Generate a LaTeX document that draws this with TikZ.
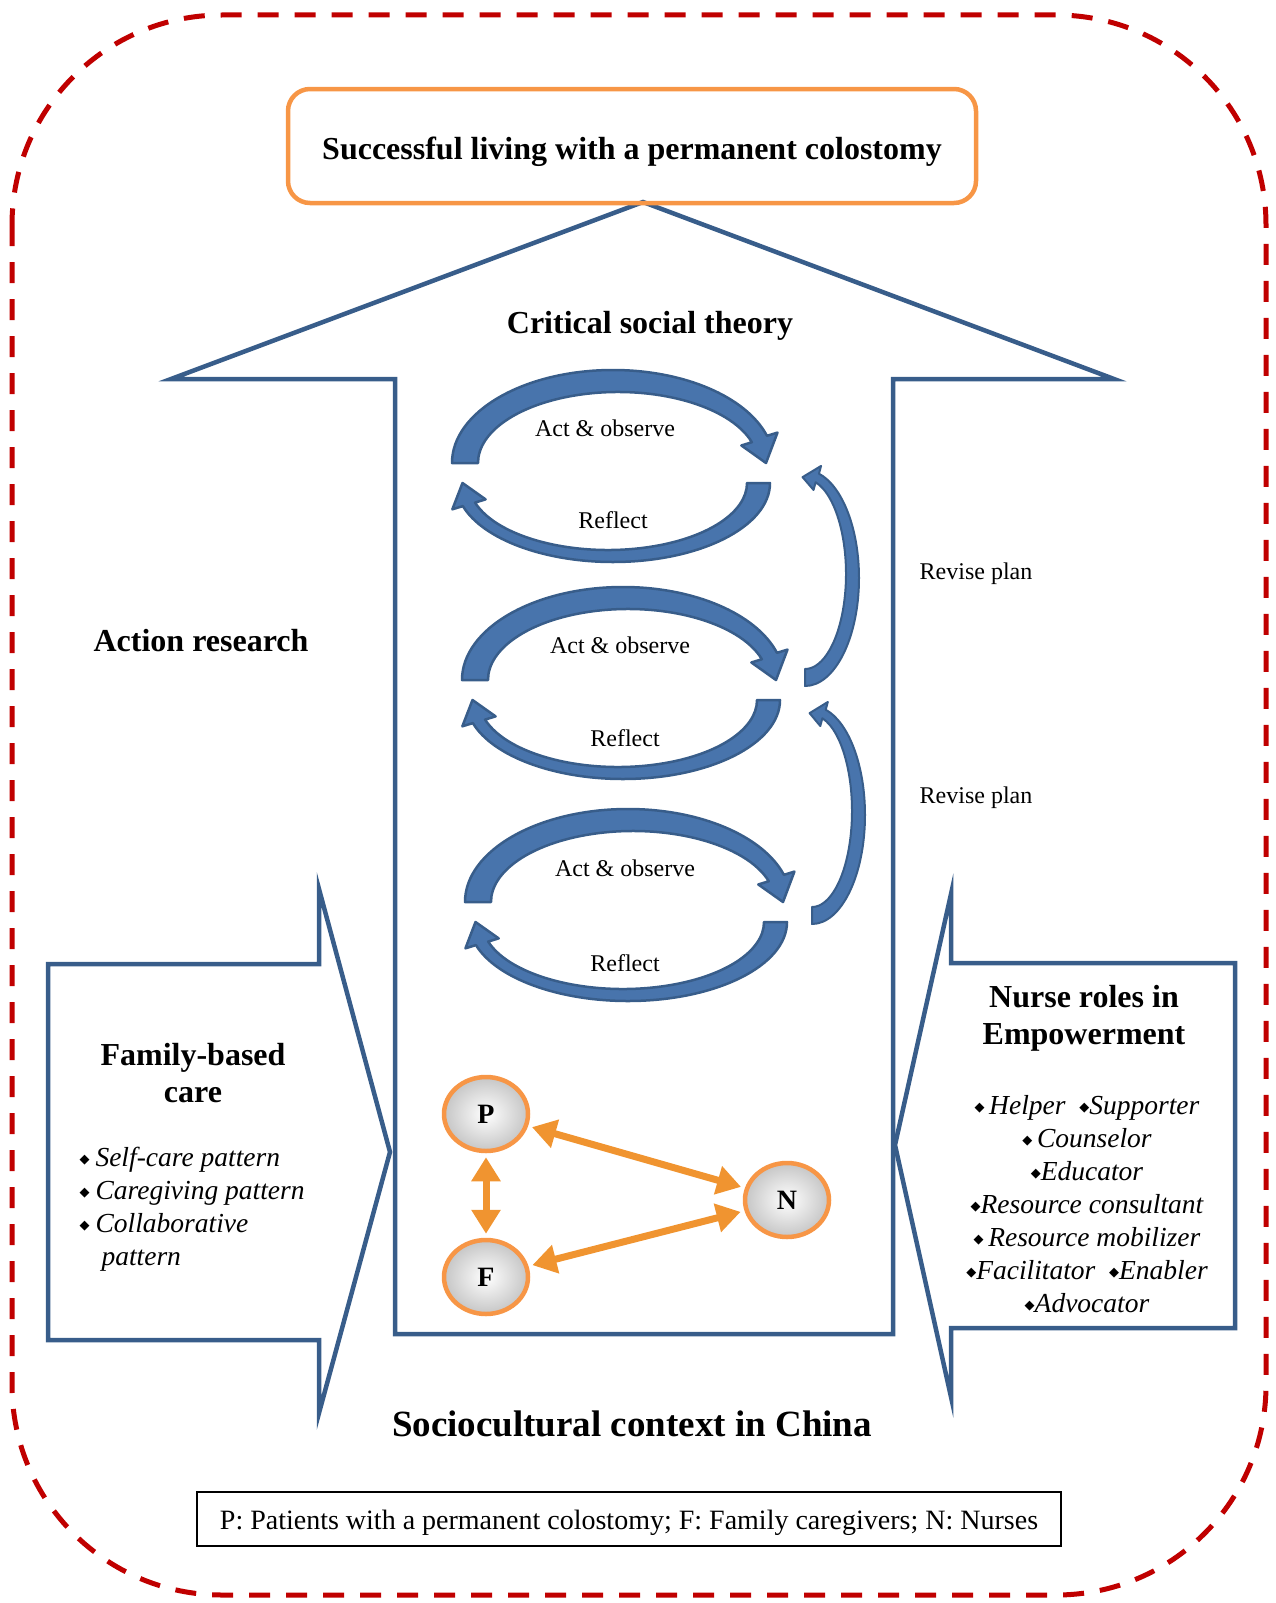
\documentclass[tikz,border=0pt]{standalone}
\usepackage{fontspec}
\setmainfont{Liberation Serif}
\newfontfamily\symbolfont{DejaVu Sans}
\usetikzlibrary{positioning, arrows.meta, shapes.geometric}

\definecolor{frameblue}{RGB}{56,93,138}
\definecolor{arcblue}{RGB}{72,116,172}
\definecolor{boxorange}{RGB}{247,150,70}
\definecolor{framered}{RGB}{192,0,0}
\definecolor{linkorange}{RGB}{240,148,48}

\newcommand{\bul}{\raisebox{0.22ex}{\symbolfont\fontsize{13}{13}\selectfont ◆}}

% curved block arrow: centre x, centre y, outer radii x/y, inner radii x/y,
% shift of the inner ellipse, start angle, head base angle (tip at start+180)
\newcommand{\cyclearc}[9]{%
  \begin{scope}[shift={(#1,#2)}]
    \pgfmathsetmacro{\tipangle}{#8+180}
    \pgfmathsetmacro{\mxr}{(#3+#5)/2}\pgfmathsetmacro{\myr}{(#4+#6)/2}
    \pgfmathsetmacro{\hxo}{#3+11}\pgfmathsetmacro{\hyo}{#4+11}
    \pgfmathsetmacro{\hxi}{#5-11}\pgfmathsetmacro{\hyi}{#6-11}
    \pgfmathsetmacro{\mdx}{#7/2}
    \filldraw[cyclearrow] (#8:{#3} and {#4})
      arc[start angle=#8, end angle=#9, x radius=#3, y radius=#4]
      -- (#9:{\hxo} and {\hyo}) -- ([xshift=\mdx]\tipangle:{\mxr} and {\myr})
      -- ([xshift=#7]#9:{\hxi} and {\hyi}) -- ([xshift=#7]#9:{#5} and {#6})
      arc[start angle=#9, end angle=#8, x radius=#5, y radius=#6] -- cycle;
  \end{scope}}

% thinner arrow on the right: centre x, centre y, radius x, radius y
\newcommand{\revisearc}[4]{%
  \begin{scope}[shift={(#1,#2)}]
    \pgfmathsetmacro{\oxr}{#3+7}\pgfmathsetmacro{\oyr}{#4+7}
    \pgfmathsetmacro{\ixr}{#3-6}\pgfmathsetmacro{\iyr}{#4-6}
    \pgfmathsetmacro{\hxo}{#3+15}\pgfmathsetmacro{\hyo}{#4+15}
    \pgfmathsetmacro{\hxi}{#3-14}\pgfmathsetmacro{\hyi}{#4-14}
    \filldraw[cyclearrow, line width=2] (90:{\oxr} and {\oyr})
      arc[start angle=90, end angle=-75, x radius=\oxr, y radius=\oyr]
      -- (-75:{\hxo} and {\hyo}) -- (-93:{#3} and {#4}) -- ([yshift=4]-75:{\hxi} and {\hyi})
      -- ([yshift=4]-75:{\ixr} and {\iyr})
      arc[start angle=-75, end angle=90, x radius=\ixr, y radius=\iyr] -- cycle;
  \end{scope}}

\begin{document}
\begin{tikzpicture}[x=1pt, y=-1pt,
    outline/.style={draw=frameblue, line width=4.5, line join=miter},
    cyclearrow/.style={fill=arcblue, draw=frameblue, line width=2.5, line join=round},
    heading/.style={font=\bfseries\fontsize{32}{37}\selectfont, align=center},
    label/.style={font=\fontsize{24}{28}\selectfont},
    rolelist/.style={font=\itshape\fontsize{27.5}{33}\selectfont},
    person/.style={ellipse, draw=boxorange, line width=4.5, inner color=white, outer color=gray!45,
        minimum width=84, minimum height=74, font=\bfseries\fontsize{28}{28}\selectfont},
    link/.style={{Triangle[length=24pt,width=28pt]}-{Triangle[length=24pt,width=28pt]},
        line width=7, draw=linkorange, shorten <=4pt, shorten >=4pt}]

    \useasboundingbox (0,0) rectangle (1275,1603);

    % outer dashed frame
    \draw[draw=framered, line width=5, dash pattern=on 21pt off 16pt, rounded corners=210]
        (12,15) rectangle (1266,1595);

    % big arrow and the two side arrows
    \draw[outline] (171,379) -- (643,202) -- (1114,379) -- (893,379) -- (893,1334)
        -- (395,1334) -- (395,379) -- cycle;
    \draw[outline] (48,964) -- (319,964) -- (319,889) -- (390,1152) -- (319,1413)
        -- (319,1340) -- (48,1340) -- cycle;
    \draw[outline] (1235,963) -- (951,963) -- (951,894) -- (895,1145) -- (951,1397)
        -- (951,1328) -- (1235,1328) -- cycle;

    \node[draw=boxorange, line width=4.5, rounded corners=22, minimum width=688, minimum height=114,
        text height=30pt, text depth=3pt,
        font=\bfseries\fontsize{32}{38}\selectfont] (goal) at (632,146)
        {Successful living with a permanent colostomy};

    \node[heading] (theory) at (650,326) {Critical social theory};
    \node[heading] (action) at (201,641) {Action research};

    % action research cycles
    \cyclearc{613}{463}{161}{93}{140}{71}{5}{180}{343}
    \cyclearc{613}{483}{157}{79}{139}{67}{-5}{0}{163}
    \cyclearc{623}{680}{161}{93}{140}{71}{5}{180}{343}
    \cyclearc{623}{700}{157}{79}{139}{67}{-5}{0}{163}
    \cyclearc{628}{902}{163}{93}{142}{71}{5}{180}{343}
    \cyclearc{628}{922}{159}{79}{141}{67}{-5}{0}{163}
    \revisearc{805}{578}{47}{101}
    \revisearc{812}{815}{46}{102}

    \node[label] (act1) at (605,428) {Act \& observe};
    \node[label] (ref1) at (613,520) {Reflect};
    \node[label] (act2) at (620,645) {Act \& observe};
    \node[label] (ref2) at (625,738) {Reflect};
    \node[label] (act3) at (625,868) {Act \& observe};
    \node[label] (ref3) at (625,963) {Reflect};
    \node[label] (revise1) at (976,574) {Revise plan};
    \node[label] (revise2) at (976,798) {Revise plan};

    % family-based care
    \node[heading] (family) at (193,1073) {Family-based\\care};
    \node[rolelist, align=left, anchor=west] (patterns) at (76,1209)
        {\bul\hspace{6pt}Self-care pattern\\ \bul\hspace{6pt}Caregiving pattern\\
         \bul\hspace{6pt}Collaborative\\ \hspace{22pt}pattern};

    % nurse roles
    \node[heading] (nurse) at (1084,1018) {Nurse roles in\\Empowerment};
    \node[rolelist, align=center] (roles) at (1087,1204)
        {\bul\,Helper\enspace\bul Supporter\\ \bul\,Counselor\\ \bul Educator\\ \bul Resource consultant\\
         \bul\,Resource mobilizer\\ \bul Facilitator\enspace\bul Enabler\\ \bul Advocator};

    % patients, family caregivers, nurses
    \node[person] (P) at (486,1114) {P};
    \node[person] (F) at (486,1277) {F};
    \node[person] (N) at (787,1200) {N};
    \draw[link] (P) -- (N);
    \draw[link] (F) -- (N);
    \draw[link] (P) -- (F);

    \node[heading, font=\bfseries\fontsize{37}{40}\selectfont] (context) at (632,1424)
        {Sociocultural context in China};
    \node[draw=black, line width=1.2, minimum width=864, minimum height=54,
        text height=23pt, text depth=3pt,
        font=\fontsize{28}{30}\selectfont] (key) at (629,1519)
        {P: Patients with a permanent colostomy; F: Family caregivers; N: Nurses};
\end{tikzpicture}
\end{document}
